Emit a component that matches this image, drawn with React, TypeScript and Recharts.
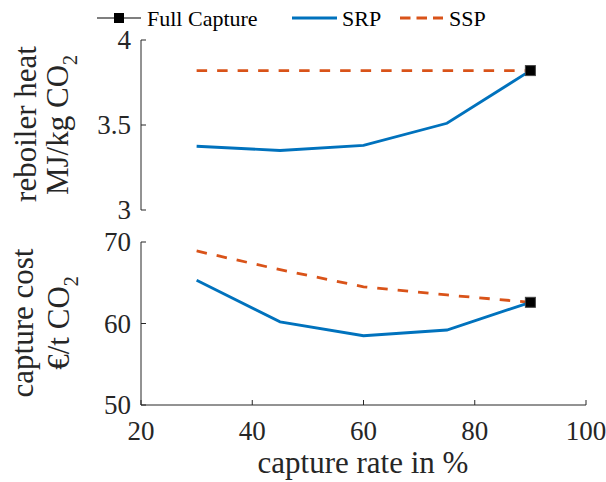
import React from 'react'
import { LineChart, Line, XAxis, YAxis } from 'recharts'

const rates = [30, 45, 60, 75, 90]
const heatSRP = [3.375, 3.35, 3.38, 3.51, 3.82]
const heatSSP = [3.82, 3.82, 3.82, 3.82, 3.82]
const costSRP = [65.3, 60.2, 58.5, 59.2, 62.6]
const costSSP = [68.9, 66.6, 64.5, 63.5, 62.6]
const fullRate = [90]
const fullHeat = [3.82]
const fullCost = [62.6]

const xTicks = [20, 40, 60, 80, 100]
const heatTicks = [3, 3.5, 4]
const costTicks = [50, 60, 70]

const FONT = '"Liberation Serif", "Times New Roman", serif'
const AXIS = '#262626'
const BLUE = '#0072BD'
const ORANGE = '#D95319'

const heatData = rates.map((x, i) => ({ x, srp: heatSRP[i], ssp: heatSSP[i] }))
const costData = rates.map((x, i) => ({ x, srp: costSRP[i], ssp: costSSP[i] }))
const heatFull = fullRate.map((x, i) => ({ x, v: fullHeat[i] }))
const costFull = fullRate.map((x, i) => ({ x, v: fullCost[i] }))

// ticks point inward, like the original MATLAB figure
const YTick = (props: any) => {
  const { x, y, payload } = props
  return (
    <g>
      <line x1={x} y1={y} x2={x + 5} y2={y} stroke={AXIS} strokeWidth={1} />
      <text x={x - 10} y={y} dy="0.34em" textAnchor="end" style={{ fontFamily: FONT, fontSize: 27 }} fill={AXIS}>
        {payload.value}
      </text>
    </g>
  )
}

const XTick = (props: any) => {
  const { x, y, payload } = props
  return (
    <g>
      <line x1={x} y1={y} x2={x} y2={y - 5} stroke={AXIS} strokeWidth={1} />
      <text x={x} y={y + 35} textAnchor="middle" style={{ fontFamily: FONT, fontSize: 27 }} fill={AXIS}>
        {payload.value}
      </text>
    </g>
  )
}

const Square = (props: any) => {
  const { cx, cy } = props
  if (cx == null || cy == null) return null
  return <rect x={cx - 5} y={cy - 5} width={10} height={10} fill="#000" stroke="#444" strokeWidth={1} />
}

const W = 606
const H = 482

export default function App() {
  return (
    <div style={{ position: 'absolute', left: 0, top: 0, width: W, height: H, background: '#fff', fontFamily: FONT }}>
      {/* upper panel: reboiler heat */}
      <div style={{ position: 'absolute', left: 0, top: 0 }}>
        <LineChart width={W} height={H} data={heatData} margin={{ top: 40, right: 20, bottom: 272, left: 0 }}>
          <XAxis dataKey="x" type="number" domain={[20, 100]} ticks={xTicks} hide />
          <YAxis
            type="number"
            domain={[3, 4]}
            ticks={heatTicks}
            width={141}
            tickSize={0}
            tickMargin={0}
            tickLine={false}
            axisLine={{ stroke: AXIS }}
            tick={<YTick />}
            interval={0}
          />
          <Line dataKey="ssp" stroke={ORANGE} strokeWidth={2.8} strokeDasharray="10.5 10" dot={false} isAnimationActive={false} />
          <Line dataKey="srp" stroke={BLUE} strokeWidth={2.8} dot={false} isAnimationActive={false} />
          <Line data={heatFull} dataKey="v" stroke="none" dot={<Square />} isAnimationActive={false} />
        </LineChart>
      </div>

      {/* lower panel: capture cost */}
      <div style={{ position: 'absolute', left: 0, top: 0 }}>
        <LineChart width={W} height={H} data={costData} margin={{ top: 242, right: 20, bottom: 0, left: 0 }}>
          <XAxis
            dataKey="x"
            type="number"
            domain={[20, 100]}
            ticks={xTicks}
            height={77}
            tickSize={0}
            tickMargin={0}
            tickLine={false}
            axisLine={{ stroke: AXIS }}
            tick={<XTick />}
            interval={0}
          />
          <YAxis
            type="number"
            domain={[50, 70]}
            ticks={costTicks}
            width={141}
            tickSize={0}
            tickMargin={0}
            tickLine={false}
            axisLine={{ stroke: AXIS }}
            tick={<YTick />}
            interval={0}
          />
          <Line dataKey="ssp" stroke={ORANGE} strokeWidth={2.8} strokeDasharray="10.5 10" dot={false} isAnimationActive={false} />
          <Line dataKey="srp" stroke={BLUE} strokeWidth={2.8} dot={false} isAnimationActive={false} />
          <Line data={costFull} dataKey="v" stroke="none" dot={<Square />} isAnimationActive={false} />
        </LineChart>
      </div>

      {/* labels and legend */}
      <svg width={W} height={H} style={{ position: 'absolute', left: 0, top: 0, pointerEvents: 'none', fontFamily: FONT }} fill={AXIS}>
        <text transform="translate(36,124) rotate(-90)" textAnchor="middle" fontSize={31}>reboiler heat</text>
        <text transform="translate(68,125) rotate(-90)" textAnchor="middle" fontSize={31}>
          MJ/kg CO<tspan fontSize={20} dy={9}>2</tspan>
        </text>
        <text transform="translate(33,323) rotate(-90)" textAnchor="middle" fontSize={31}>capture cost</text>
        <text transform="translate(69,323) rotate(-90)" textAnchor="middle" fontSize={31}>
          €/t CO<tspan fontSize={20} dy={9}>2</tspan>
        </text>
        <text x={363} y={473} textAnchor="middle" fontSize={31}>capture rate in %</text>

        <line x1={97} y1={18} x2={141} y2={18} stroke="#000" strokeWidth={1.2} />
        <rect x={114} y={13} width={10} height={10} fill="#000" />
        <text x={147} y={26} fontSize={22} fill="#000">Full Capture</text>
        <line x1={292} y1={18} x2={337} y2={18} stroke={BLUE} strokeWidth={2.8} />
        <text x={342} y={26} fontSize={22} fill="#000">SRP</text>
        <line x1={400} y1={18} x2={443} y2={18} stroke={ORANGE} strokeWidth={2.8} strokeDasharray="10.5 6" />
        <text x={449} y={26} fontSize={22} fill="#000">SSP</text>
      </svg>
    </div>
  )
}
